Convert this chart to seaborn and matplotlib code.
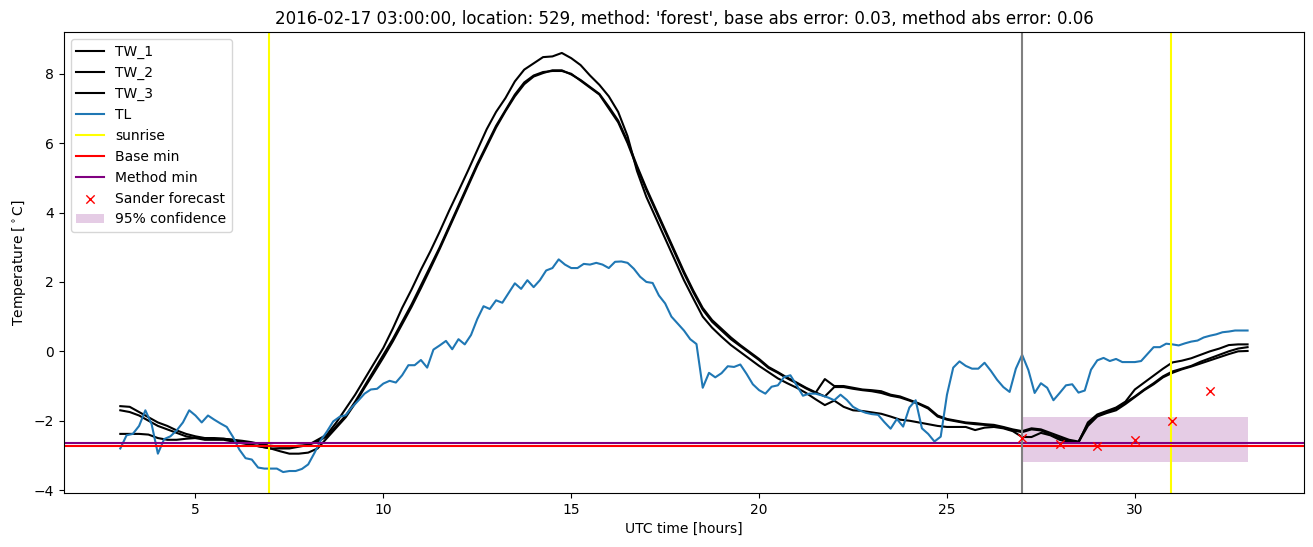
import numpy as np
import matplotlib
matplotlib.use('Agg')
import matplotlib.pyplot as plt
import seaborn as sns

# time axes (hours since 2016-02-17 00:00 UTC)
hours_tw = np.arange(3, 33.001, 0.25)
hours_tl = np.arange(3, 33.001, 1 / 6)

tw_1 = [-1.58, -1.60, -1.75, -1.90, -2.05, -2.15, -2.28, -2.38, -2.45, -2.50,
        -2.52, -2.52, -2.55, -2.58, -2.62, -2.68, -2.72, -2.75, -2.75, -2.72,
        -2.70, -2.55, -2.40, -2.05, -1.65, -1.25, -0.80, -0.35, 0.10, 0.65,
        1.25, 1.78, 2.35, 2.88, 3.45, 4.05, 4.62, 5.20, 5.80, 6.40,
        6.90, 7.30, 7.78, 8.12, 8.30, 8.48, 8.50, 8.60, 8.45, 8.25,
        7.95, 7.68, 7.35, 6.90, 6.20, 5.20, 4.45, 3.85, 3.25, 2.65,
        2.05, 1.52, 1.00, 0.68, 0.42, 0.18, -0.02, -0.22, -0.42, -0.60,
        -0.78, -0.92, -1.05, -1.20, -1.38, -1.55, -1.42, -1.60, -1.70, -1.72,
        -1.76, -1.80, -1.88, -1.97, -2.00, -2.05, -2.10, -2.15, -2.18, -2.18,
        -2.18, -2.27, -2.20, -2.18, -2.22, -2.30, -2.47, -2.47, -2.35, -2.42,
        -2.55, -2.62, -2.63, -2.05, -1.82, -1.72, -1.62, -1.45, -1.10, -0.90,
        -0.70, -0.50, -0.32, -0.27, -0.20, -0.10, 0.00, 0.08, 0.18, 0.20,
        0.20]
tw_2 = [-1.70, -1.75, -1.85, -2.00, -2.15, -2.25, -2.35, -2.45, -2.50, -2.55,
        -2.55, -2.55, -2.60, -2.65, -2.70, -2.75, -2.80, -2.80, -2.80, -2.75,
        -2.70, -2.60, -2.45, -2.15, -1.85, -1.45, -1.00, -0.55, -0.10, 0.35,
        0.85, 1.35, 1.90, 2.45, 3.00, 3.60, 4.20, 4.80, 5.40, 5.95,
        6.50, 6.95, 7.40, 7.75, 7.95, 8.05, 8.08, 8.08, 8.00, 7.80,
        7.60, 7.40, 7.00, 6.60, 6.00, 5.30, 4.65, 4.05, 3.45, 2.85,
        2.25, 1.70, 1.20, 0.85, 0.60, 0.35, 0.15, -0.05, -0.25, -0.48,
        -0.62, -0.78, -0.92, -1.07, -1.20, -0.80, -1.00, -1.00, -1.05, -1.10,
        -1.12, -1.15, -1.25, -1.30, -1.40, -1.50, -1.62, -1.85, -1.95, -2.00,
        -2.05, -2.07, -2.10, -2.12, -2.18, -2.25, -2.30, -2.22, -2.25, -2.35,
        -2.45, -2.55, -2.60, -2.10, -1.85, -1.75, -1.65, -1.48, -1.30, -1.10,
        -0.92, -0.72, -0.58, -0.50, -0.42, -0.30, -0.20, -0.10, 0.00, 0.08,
        0.12]
tw_3 = [-2.38, -2.38, -2.38, -2.40, -2.50, -2.55, -2.55, -2.52, -2.50, -2.50,
        -2.50, -2.52, -2.55, -2.62, -2.70, -2.75, -2.80, -2.88, -2.95, -2.95,
        -2.92, -2.80, -2.50, -2.20, -1.90, -1.50, -1.05, -0.62, -0.18, 0.28,
        0.78, 1.28, 1.82, 2.38, 2.95, 3.55, 4.15, 4.75, 5.35, 5.90,
        6.45, 6.92, 7.35, 7.70, 7.92, 8.02, 8.10, 8.10, 7.98, 7.82,
        7.62, 7.42, 7.05, 6.65, 6.05, 5.35, 4.70, 4.10, 3.50, 2.90,
        2.30, 1.75, 1.25, 0.90, 0.65, 0.40, 0.18, -0.02, -0.22, -0.45,
        -0.60, -0.76, -0.90, -1.05, -1.18, -1.30, -1.03, -1.03, -1.08, -1.12,
        -1.15, -1.20, -1.28, -1.33, -1.42, -1.52, -1.65, -1.88, -1.97, -2.02,
        -2.07, -2.10, -2.12, -2.15, -2.20, -2.28, -2.33, -2.25, -2.28, -2.40,
        -2.50, -2.58, -2.62, -2.15, -1.88, -1.78, -1.70, -1.52, -1.32, -1.12,
        -0.95, -0.75, -0.62, -0.52, -0.44, -0.35, -0.26, -0.17, -0.08, 0.00,
        0.01]
tl = [-2.80, -2.42, -2.38, -2.15, -1.70, -2.10, -2.95, -2.53, -2.45, -2.28,
      -2.05, -1.70, -1.85, -2.05, -1.85, -1.97, -2.08, -2.18, -2.47, -2.83,
      -3.08, -3.12, -3.35, -3.38, -3.38, -3.38, -3.48, -3.45, -3.45, -3.39,
      -3.26, -2.93, -2.57, -2.31, -2.02, -1.89, -1.84, -1.61, -1.42, -1.22,
      -1.10, -1.08, -0.93, -0.85, -0.90, -0.69, -0.40, -0.40, -0.25, -0.47,
      0.05, 0.17, 0.30, 0.06, 0.35, 0.20, 0.47, 0.93, 1.30, 1.22,
      1.47, 1.40, 1.68, 1.96, 1.80, 2.05, 1.85, 2.05, 2.33, 2.40,
      2.65, 2.50, 2.40, 2.40, 2.52, 2.50, 2.55, 2.50, 2.40, 2.58,
      2.59, 2.55, 2.38, 2.15, 2.00, 1.97, 1.61, 1.38, 1.00, 0.80,
      0.60, 0.35, 0.21, -1.05, -0.62, -0.75, -0.63, -0.43, -0.45, -0.38,
      -0.65, -0.95, -1.12, -1.22, -1.02, -0.98, -0.74, -0.69, -0.98, -1.28,
      -1.22, -1.22, -1.27, -1.33, -1.41, -1.25, -1.40, -1.60, -1.70, -1.77,
      -1.81, -1.83, -2.04, -2.23, -1.95, -2.17, -1.62, -1.41, -2.22, -2.38,
      -2.60, -2.46, -1.25, -0.47, -0.29, -0.42, -0.50, -0.50, -0.33, -0.56,
      -0.82, -1.03, -1.17, -0.50, -0.10, -0.54, -1.20, -0.92, -1.05, -1.41,
      -1.20, -0.98, -0.95, -1.19, -1.13, -0.53, -0.26, -0.19, -0.28, -0.22,
      -0.31, -0.31, -0.31, -0.28, -0.08, 0.12, 0.12, 0.22, 0.20, 0.17,
      0.23, 0.28, 0.31, 0.40, 0.45, 0.49, 0.55, 0.57, 0.60, 0.60,
      0.60]

sunrise_hours = [6.95, 30.97]
forecast_start = 27
base_min = -2.73
method_min = -2.64
forecast_hours = [27, 28, 29, 30, 31, 32]
forecast_temp = [-2.50, -2.68, -2.74, -2.57, -2.00, -1.15]
conf_hours = [27, 33]
conf_low = [-3.19, -3.19]
conf_high = [-1.89, -1.89]

fig, ax = plt.subplots(figsize=(13.13, 5.47), dpi=100)
plt.subplots_adjust(left=0.0487, right=0.9931, top=0.9415, bottom=0.0987)

for name, vals in [('TW_1', tw_1), ('TW_2', tw_2), ('TW_3', tw_3)]:
    sns.lineplot(x=hours_tw, y=vals, color='black', label=name, ax=ax)
sns.lineplot(x=hours_tl, y=tl, color='tab:blue', label='TL', ax=ax)

ax.axvline(sunrise_hours[0], color='yellow', label='sunrise')
ax.axvline(sunrise_hours[1], color='yellow')
ax.axhline(base_min, color='red', label='Base min')
ax.axhline(method_min, color='purple', label='Method min')
ax.axvline(forecast_start, color='gray')
sns.scatterplot(x=forecast_hours, y=forecast_temp, color='red', marker='x',
                s=36, linewidth=1.0, label='Sander forecast', ax=ax, zorder=3)
ax.fill_between(conf_hours, conf_low, conf_high, color='purple', alpha=0.2,
                linewidth=0, label='95% confidence')

ax.set_title("2016-02-17 03:00:00, location: 529, method: 'forest', "
             "base abs error: 0.03, method abs error: 0.06")
ax.set_xlabel('UTC time [hours]')
ax.set_ylabel(r'Temperature [$^\circ$C]')
ax.legend(loc='upper left')

plt.savefig('out.png', dpi=100)
